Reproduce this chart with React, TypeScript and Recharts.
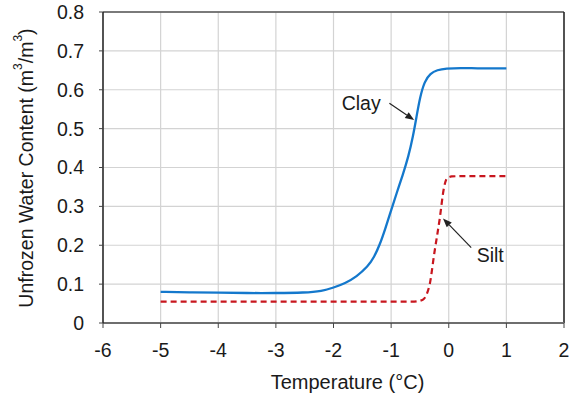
import React from "react";
import {
  LineChart,
  Line,
  XAxis,
  YAxis,
  CartesianGrid,
  ReferenceLine,
  Label,
} from "recharts";

// unfrozen water content curves
const clayTemp = [
  -5, -4.5, -4, -3.5, -3, -2.5, -2.2, -2.0, -1.8, -1.6, -1.4, -1.3, -1.2, -1.1, -1.0,
  -0.9, -0.8, -0.7, -0.62, -0.56, -0.5, -0.42, -0.32, -0.2, -0.05, 0.2, 0.5, 0.8, 1.0,
];
const clayWater = [
  0.08, 0.079, 0.078, 0.077, 0.077, 0.078, 0.082, 0.091, 0.102, 0.119, 0.146, 0.168,
  0.2, 0.243, 0.29, 0.336, 0.38, 0.428, 0.48, 0.53, 0.58, 0.622, 0.642, 0.651, 0.655,
  0.656, 0.655, 0.655, 0.655,
];

const siltTemp = [-5, -0.6, -0.45, -0.38, -0.33, -0.25, -0.16, -0.08, -0.03, 0.05, 0.3, 1.0];
const siltWater = [0.055, 0.055, 0.06, 0.075, 0.1, 0.18, 0.265, 0.35, 0.372, 0.377, 0.378, 0.378];

const xTicks = [-6, -5, -4, -3, -2, -1, 0, 1, 2];
const yTicks = [0, 0.1, 0.2, 0.3, 0.4, 0.5, 0.6, 0.7, 0.8];

// annotation arrows: label position, arrow tail, arrow head (data units)
const clayNote = { text: "Clay", label: [-1.52, 0.566], from: [-1.03, 0.565], to: [-0.6, 0.522] };
const siltNote = { text: "Silt", label: [0.72, 0.174], from: [0.39, 0.194], to: [-0.1, 0.269] };

const clayData = clayTemp.map((t, i) => ({ t, w: clayWater[i] }));
const siltData = siltTemp.map((t, i) => ({ t, w: siltWater[i] }));

const FONT = "'Liberation Sans', Arial, sans-serif";
const INK = "#1a1a1a";

function makeArrow(note: typeof clayNote) {
  return (p: any) => {
    const { x1, y1, x2, y2 } = p;
    const ang = Math.atan2(y2 - y1, x2 - x1);
    const len = 9;
    const half = 3.5;
    const bx = x2 - len * Math.cos(ang);
    const by = y2 - len * Math.sin(ang);
    const px = -Math.sin(ang) * half;
    const py = Math.cos(ang) * half;
    return (
      <g>
        <line x1={x1} y1={y1} x2={bx} y2={by} stroke="#222" strokeWidth={1.2} />
        <polygon
          points={`${x2},${y2} ${bx + px},${by + py} ${bx - px},${by - py}`}
          fill="#222"
        />
      </g>
    );
  };
}

function NoteText({ viewBox, text }: any) {
  if (!viewBox) return null;
  return (
    <text
      x={viewBox.x}
      y={viewBox.y}
      textAnchor="middle"
      dominantBaseline="central"
      fontFamily={FONT}
      fontSize={19.5}
      fill={INK}
    >
      {text}
    </text>
  );
}

function YTitle({ viewBox }: any) {
  const cx = 26;
  const cy = 168;
  return (
    <text
      x={cx}
      y={cy}
      transform={`rotate(-90 ${cx} ${cy})`}
      textAnchor="middle"
      dominantBaseline="central"
      fontFamily={FONT}
      fontSize={19.5}
      fill={INK}
    >
      Unfrozen Water Content (m
      <tspan fontSize={12} dy={-8}>3</tspan>
      <tspan dy={8}>/m</tspan>
      <tspan fontSize={12} dy={-8}>3</tspan>
      <tspan dy={8}>)</tspan>
    </text>
  );
}

function XTitle({ viewBox }: any) {
  if (!viewBox) return null;
  return (
    <text
      x={viewBox.x + viewBox.width / 2 + 14}
      y={389}
      textAnchor="middle"
      fontFamily={FONT}
      fontSize={20}
      fill={INK}
    >
      Temperature (°C)
    </text>
  );
}

export default function App() {
  return (
    <div style={{ position: "absolute", left: 0, top: 0, background: "#fff" }}>
      <LineChart
        width={577}
        height={396}
        margin={{ top: 12, right: 13, left: 0, bottom: 0 }}
      >
        <CartesianGrid stroke="#d3d3d3" strokeWidth={1.2} horizontalValues={yTicks} verticalValues={xTicks} />
        <XAxis
          type="number"
          dataKey="t"
          domain={[-6, 2]}
          ticks={xTicks}
          allowDataOverflow
          height={73}
          tickSize={5}
          tickMargin={15}
          tick={{ fontSize: 19.5, fill: INK, fontFamily: FONT }}
          tickFormatter={(v) => String(v)}
          stroke="#6e6e6e"
          axisLine={{ stroke: "#6e6e6e", strokeWidth: 2 }}
          tickLine={{ stroke: "#444" }}
        >
          <Label content={<XTitle />} />
        </XAxis>
        <YAxis
          type="number"
          domain={[0, 0.8]}
          ticks={yTicks}
          allowDataOverflow
          width={103}
          tickSize={4}
          tickMargin={15}
          tick={{ fontSize: 19.5, fill: INK, fontFamily: FONT }}
          tickFormatter={(v) => (v === 0 ? "0" : v.toFixed(1))}
          axisLine={{ stroke: "#222", strokeWidth: 1.5 }}
          tickLine={{ stroke: "#444" }}
        >
          <Label content={<YTitle />} />
        </YAxis>
        <ReferenceLine y={0.8} stroke="#555" strokeWidth={1.3} />
        <ReferenceLine x={2} stroke="#222" strokeWidth={1.5} />
        <Line
          data={clayData}
          dataKey="w"
          type="basis"
          stroke="#1478cc"
          strokeWidth={2.3}
          dot={false}
          isAnimationActive={false}
        />
        <Line
          data={siltData}
          dataKey="w"
          type="monotone"
          stroke="#c8161e"
          strokeWidth={2.2}
          strokeDasharray="6 4"
          dot={false}
          isAnimationActive={false}
        />
        {[clayNote, siltNote].map((n) => (
          <ReferenceLine
            key={n.text}
            segment={[
              { x: n.from[0], y: n.from[1] },
              { x: n.to[0], y: n.to[1] },
            ]}
            shape={makeArrow(n)}
          />
        ))}
        {[clayNote, siltNote].map((n) => (
          <ReferenceLine
            key={n.text + "-label"}
            segment={[
              { x: n.label[0], y: n.label[1] },
              { x: n.label[0], y: n.label[1] },
            ]}
            stroke="none"
            label={<NoteText text={n.text} />}
          />
        ))}
      </LineChart>
    </div>
  );
}
